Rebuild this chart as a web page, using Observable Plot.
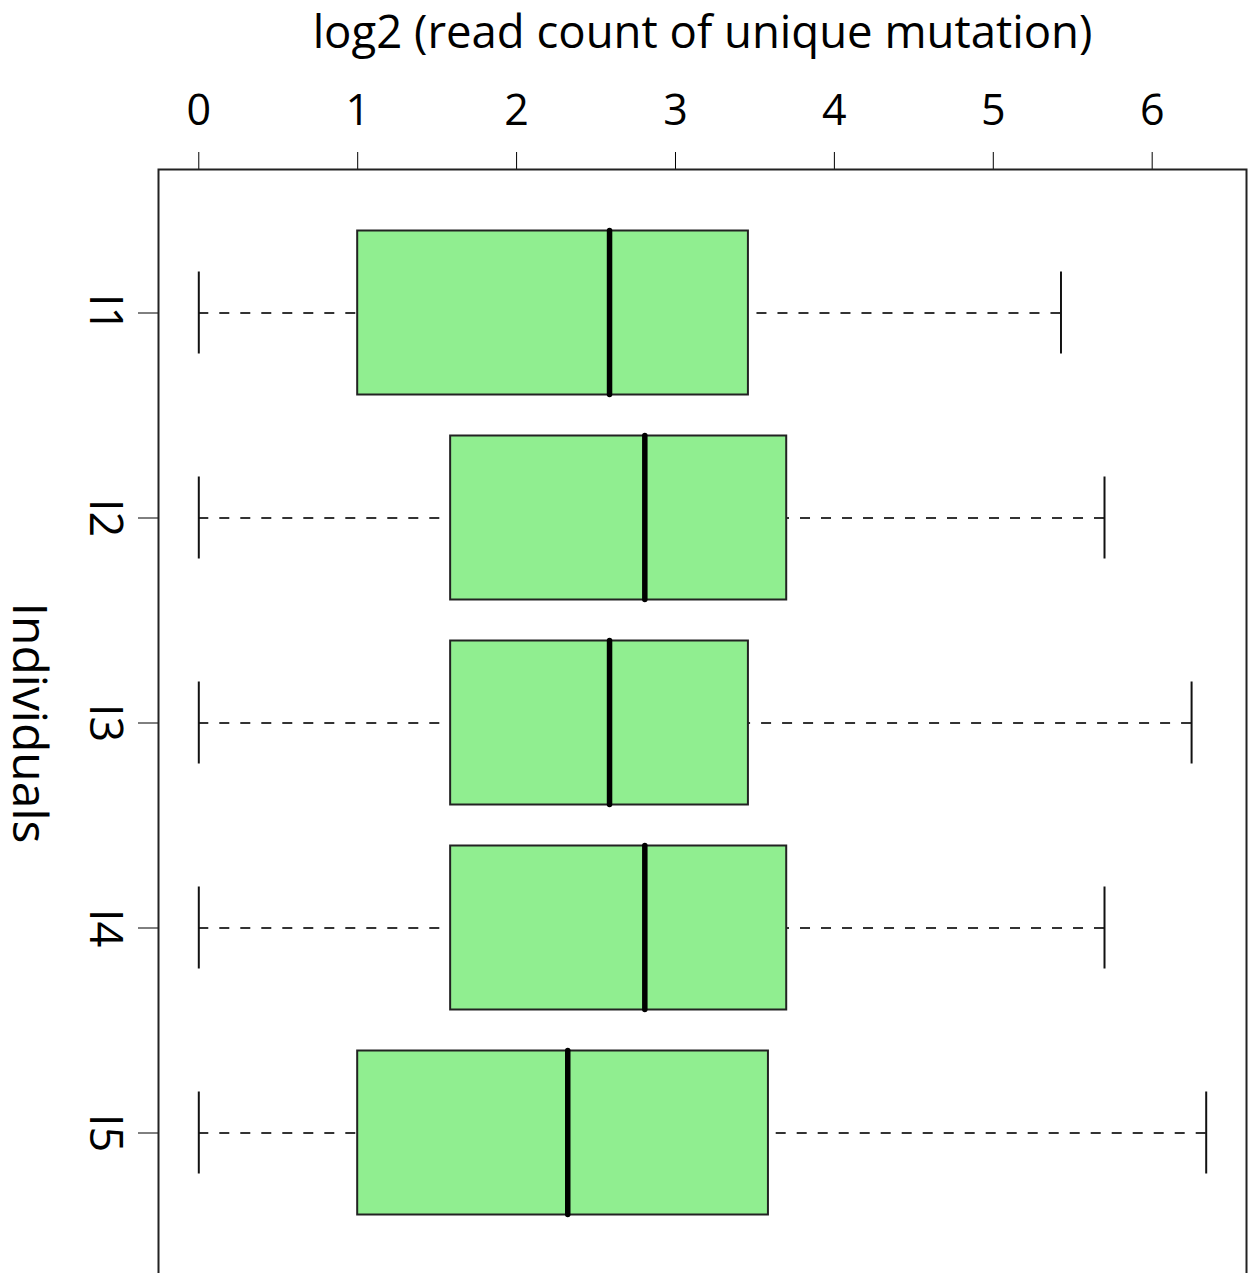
<!DOCTYPE html>
<html>
<head>
<meta charset="utf-8">
<script src="https://cdn.jsdelivr.net/npm/d3@7"></script>
<script src="https://cdn.jsdelivr.net/npm/@observablehq/plot@0.6"></script>
<style>
  html, body { margin: 0; padding: 0; background: #fff; }
  #chart svg { display: block; }
  #chart svg .tick line { stroke: #222; stroke-width: 2px; }
</style>
</head>
<body>
<div id="chart"></div>
<script>
// ---- data ----
const individuals  = ["I1", "I2", "I3", "I4", "I5"];
const lowerWhisker = [0, 0, 0, 0, 0];
const lowerHinge   = [1.0, 1.585, 1.585, 1.585, 1.0];
const medians      = [2.585, 2.807, 2.585, 2.807, 2.322];
const upperHinge   = [3.459, 3.700, 3.459, 3.700, 3.585];
const upperWhisker = [5.426, 5.700, 6.248, 5.700, 6.340];
const xTicks       = [0, 1, 2, 3, 4, 5, 6];
const xLabel = "log2 (read count of unique mutation)";
const yLabel = "Individuals";

// table built from the arrays
const rows = individuals.map((name, i) => ({
  name,
  pos: i + 1,
  lo: lowerWhisker[i],
  q1: lowerHinge[i],
  med: medians[i],
  q3: upperHinge[i],
  hi: upperWhisker[i]
}));
const boxHalf = 0.4;   // box width 0.8 of category step
const capHalf = 0.2;   // staple width 0.4
const yPositions = rows.map(d => d.pos);

const font = "'Open Sans', 'DejaVu Sans', sans-serif";

const chart = Plot.plot({
  width: 1254,
  height: 1273,
  marginLeft: 158,
  marginRight: 8,
  marginTop: 169,
  marginBottom: -3,
  style: { fontFamily: font, background: "#fff", color: "#000" },
  x: { domain: [-0.2536, 6.5936], axis: "top", ticks: xTicks, tickSize: 18, tickFormat: () => "", label: null },
  y: { domain: [0.3, 5.7], reverse: true, axis: "left", ticks: yPositions, tickSize: 20, tickFormat: () => "", label: null },
  marks: [
    // dashed whiskers (drawn from the extreme toward the hinge)
    Plot.ruleY(rows, { y: "pos", x1: "lo", x2: "q1", stroke: "#333", strokeWidth: 2, strokeDasharray: "10,11" }),
    Plot.ruleY(rows, { y: "pos", x1: "hi", x2: "q3", stroke: "#333", strokeWidth: 2, strokeDasharray: "10,11" }),
    // staples
    Plot.ruleX(rows, { x: "lo", y1: d => d.pos - capHalf, y2: d => d.pos + capHalf, stroke: "#111", strokeWidth: 2 }),
    Plot.ruleX(rows, { x: "hi", y1: d => d.pos - capHalf, y2: d => d.pos + capHalf, stroke: "#111", strokeWidth: 2 }),
    // boxes
    Plot.rect(rows, { x1: "q1", x2: "q3", y1: d => d.pos - boxHalf, y2: d => d.pos + boxHalf,
      fill: "#90EE90", stroke: "#222", strokeWidth: 2 }),
    // medians
    Plot.ruleX(rows, { x: "med", y1: d => d.pos - boxHalf, y2: d => d.pos + boxHalf,
      stroke: "#000", strokeWidth: 5.5, strokeLinecap: "round" }),
    // frame
    Plot.frame({ stroke: "#222", strokeWidth: 2 }),
    // x tick labels and title on top
    Plot.text(xTicks, { x: d => d, text: d => String(d), frameAnchor: "top", dy: -58.4,
      fontSize: 43, lineAnchor: "middle", textAnchor: "middle", fill: "#000" }),
    Plot.text([xLabel], { text: d => d, frameAnchor: "top", dy: -136,
      fontSize: 45.5, lineAnchor: "middle", textAnchor: "middle", fill: "#000" }),
    // rotated y labels
    Plot.text(rows, { y: "pos", text: "name", frameAnchor: "left", dx: -54, rotate: 90,
      fontSize: 45, lineAnchor: "middle", textAnchor: "middle", fill: "#000" }),
    Plot.text([yLabel], { text: d => d, frameAnchor: "left", dx: -130.5, rotate: 90,
      fontSize: 48, lineAnchor: "middle", textAnchor: "middle", fill: "#000" })
  ]
});
d3.select(chart).selectAll(".tick line").attr("stroke-width", 2).attr("stroke", "#222");
document.getElementById("chart").appendChild(chart);
</script>
</body>
</html>
